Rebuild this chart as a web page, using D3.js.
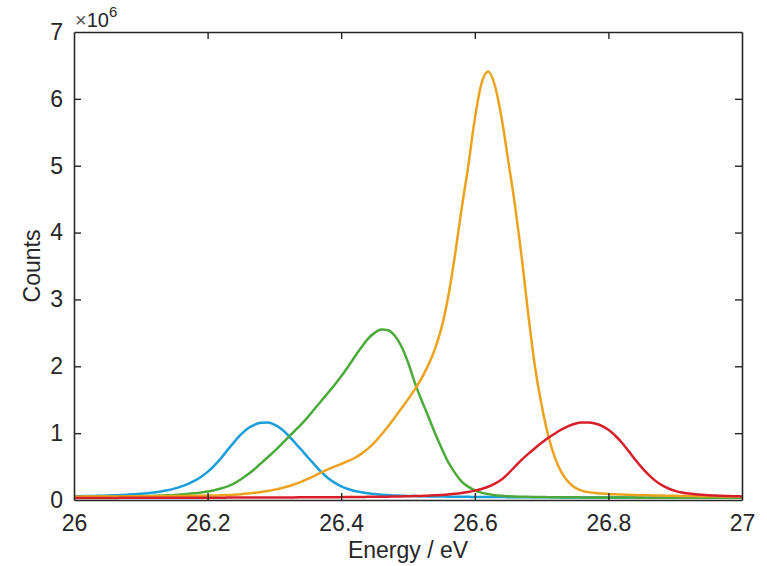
<!DOCTYPE html>
<html>
<head>
<meta charset="utf-8">
<script src="https://cdn.jsdelivr.net/npm/d3@7"></script>
<style>
  html, body { margin: 0; padding: 0; background: #fff; }
  svg { display: block; }
  text { font-family: "Liberation Sans", Arial, Helvetica, sans-serif; fill: #262626; }
</style>
</head>
<body>
<script>
// Energy grid (eV), 0.01 eV sampling from 26 to 27
const energy = d3.range(0, 101).map(i => +(26 + i * 0.01).toFixed(2));

// Counts (units of 1e6) for each spectral component, one value per grid point
const blueCounts = [
  0.055,0.057,0.059,0.061,0.064,0.067,0.071,0.075,0.080,0.086,
  0.093,0.102,0.113,0.127,0.145,0.170,0.200,0.238,0.285,0.345,
  0.420,0.515,0.625,0.750,0.870,0.980,1.070,1.125,1.155,1.158,
  1.128,1.065,0.975,0.865,0.755,0.640,0.530,0.420,0.330,0.260,
  0.205,0.165,0.135,0.115,0.100,0.088,0.080,0.073,0.068,0.064,
  0.060,0.058,0.056,0.054,0.052,0.051,0.050,0.049,0.048,0.047,
  0.046,0.045,0.045,0.044,0.044,0.043,0.043,0.042,0.042,0.041,
  0.041,0.040,0.040,0.039,0.039,0.039,0.038,0.038,0.038,0.037,
  0.037,0.037,0.036,0.036,0.036,0.036,0.035,0.035,0.035,0.035,
  0.035,0.034,0.034,0.034,0.034,0.034,0.034,0.034,0.034,0.034,
  0.034
];
const greenCounts = [
  0.050,0.050,0.051,0.051,0.052,0.052,0.053,0.054,0.055,0.056,
  0.058,0.060,0.063,0.066,0.070,0.075,0.082,0.090,0.100,0.112,
  0.127,0.147,0.172,0.205,0.250,0.310,0.380,0.460,0.550,0.640,
  0.730,0.830,0.930,1.030,1.130,1.240,1.360,1.480,1.600,1.720,
  1.850,1.990,2.140,2.280,2.410,2.500,2.550,2.540,2.460,2.300,
  2.060,1.760,1.500,1.260,1.010,0.780,0.570,0.410,0.280,0.200,
  0.145,0.110,0.088,0.072,0.062,0.056,0.052,0.049,0.047,0.045,
  0.044,0.043,0.042,0.041,0.040,0.040,0.039,0.039,0.038,0.038,
  0.037,0.037,0.036,0.036,0.036,0.035,0.035,0.035,0.034,0.034,
  0.034,0.034,0.033,0.033,0.033,0.033,0.032,0.032,0.032,0.032,
  0.032
];
const orangeCounts = [
  0.050,0.050,0.051,0.051,0.052,0.052,0.053,0.053,0.054,0.055,
  0.055,0.056,0.057,0.058,0.059,0.060,0.061,0.062,0.063,0.064,
  0.066,0.068,0.071,0.075,0.080,0.087,0.096,0.107,0.120,0.136,
  0.155,0.177,0.203,0.235,0.272,0.315,0.362,0.410,0.457,0.500,
  0.540,0.580,0.628,0.690,0.768,0.862,0.975,1.100,1.232,1.368,
  1.505,1.650,1.815,2.010,2.250,2.570,3.030,3.640,4.340,4.980,
  5.700,6.230,6.410,6.200,5.720,5.080,4.420,3.650,2.780,2.000,
  1.420,0.960,0.630,0.410,0.270,0.185,0.140,0.118,0.105,0.097,
  0.090,0.085,0.081,0.078,0.075,0.072,0.070,0.068,0.066,0.064,
  0.062,0.061,0.060,0.058,0.057,0.056,0.055,0.054,0.053,0.052,
  0.051
];
const redCounts = [
  0.030,0.030,0.030,0.031,0.031,0.031,0.031,0.032,0.032,0.032,
  0.032,0.033,0.033,0.033,0.033,0.034,0.034,0.034,0.034,0.035,
  0.035,0.035,0.035,0.036,0.036,0.036,0.037,0.037,0.037,0.038,
  0.038,0.038,0.039,0.039,0.040,0.040,0.041,0.041,0.042,0.042,
  0.043,0.044,0.045,0.046,0.047,0.048,0.049,0.050,0.052,0.054,
  0.056,0.058,0.061,0.065,0.070,0.076,0.083,0.092,0.104,0.120,
  0.140,0.165,0.198,0.245,0.305,0.395,0.500,0.600,0.690,0.775,
  0.855,0.930,0.995,1.055,1.105,1.140,1.158,1.160,1.145,1.110,
  1.050,0.965,0.860,0.735,0.605,0.485,0.380,0.290,0.222,0.172,
  0.137,0.112,0.096,0.085,0.077,0.071,0.066,0.062,0.059,0.056,
  0.054
];

const seriesNames = ["blue", "green", "orange", "red"];
const seriesColors = ["#1a9edb", "#4aab3a", "#eda21e", "#d71f2b"];
const seriesValues = [blueCounts, greenCounts, orangeCounts, redCounts];

const xTicks = [26, 26.2, 26.4, 26.6, 26.8, 27];
const yTicks = [0, 1, 2, 3, 4, 5, 6, 7];

const W = 767, H = 566;
const margin = { left: 74, right: 25, top: 32, bottom: 66 };
const iw = W - margin.left - margin.right;
const ih = H - margin.top - margin.bottom;

const svg = d3.select("body").append("svg").attr("width", W).attr("height", H);
const g = svg.append("g").attr("transform", `translate(${margin.left},${margin.top})`);

const x = d3.scaleLinear().domain([26, 27]).range([0, iw]);
const y = d3.scaleLinear().domain([0, 7]).range([ih, 0]);

// clip curves to the axes box
svg.append("defs").append("clipPath").attr("id", "plotclip")
  .append("rect").attr("width", iw).attr("height", ih);

const line = d3.line()
  .x((d, i) => x(energy[i]))
  .y(d => y(d))
  .curve(d3.curveMonotoneX);

const curves = g.append("g").attr("clip-path", "url(#plotclip)");
seriesValues.forEach((vals, k) => {
  curves.append("path")
    .datum(vals)
    .attr("class", "curve-" + seriesNames[k])
    .attr("fill", "none")
    .attr("stroke", seriesColors[k])
    .attr("stroke-width", 2.5)
    .attr("stroke-linejoin", "round")
    .attr("d", line);
});

// Axes with inward ticks on all four sides
const tickLen = 7;
const fmtX = d => d3.format("~g")(d);
const axStyle = sel => {
  sel.select(".domain").attr("stroke", "#262626").attr("stroke-width", 1.6);
  sel.selectAll(".tick line").attr("stroke", "#262626").attr("stroke-width", 1.4);
  sel.selectAll("text").style("font-size", "23px").attr("fill", "#262626");
};

g.append("g").attr("transform", `translate(0,${ih})`)
  .call(d3.axisBottom(x).tickValues(xTicks).tickFormat(fmtX)
    .tickSizeInner(-tickLen).tickSizeOuter(0).tickPadding(tickLen + 8))
  .call(axStyle);

g.append("g")
  .call(d3.axisTop(x).tickValues(xTicks).tickFormat("")
    .tickSizeInner(-tickLen).tickSizeOuter(0))
  .call(axStyle);

g.append("g")
  .call(d3.axisLeft(y).tickValues(yTicks).tickFormat(d3.format("d"))
    .tickSizeInner(-tickLen).tickSizeOuter(0).tickPadding(tickLen + 4))
  .call(axStyle);

g.append("g").attr("transform", `translate(${iw},0)`)
  .call(d3.axisRight(y).tickValues(yTicks).tickFormat("")
    .tickSizeInner(-tickLen).tickSizeOuter(0))
  .call(axStyle);

// hide end ticks that sit on the box corners
g.selectAll(".tick").filter(d => d === 26 || d === 27 || d === 0 || d === 7)
  .select("line").attr("opacity", 0);

// Exponent label
const expo = svg.append("text")
  .attr("x", margin.left + 1)
  .attr("y", margin.top - 5)
  .style("font-size", "20px");
expo.append("tspan").attr("fill", "#555").text("\u00d7");
expo.append("tspan").text("10");
expo.append("tspan").attr("dy", -10).style("font-size", "15px").text("6");

// Axis titles
svg.append("text")
  .attr("x", margin.left + iw / 2)
  .attr("y", 558)
  .attr("text-anchor", "middle")
  .style("font-size", "23px")
  .text("Energy / eV");

svg.append("text")
  .attr("transform", `translate(40,${margin.top + ih / 2}) rotate(-90)`)
  .attr("text-anchor", "middle")
  .style("font-size", "23px")
  .text("Counts");
</script>
</body>
</html>
